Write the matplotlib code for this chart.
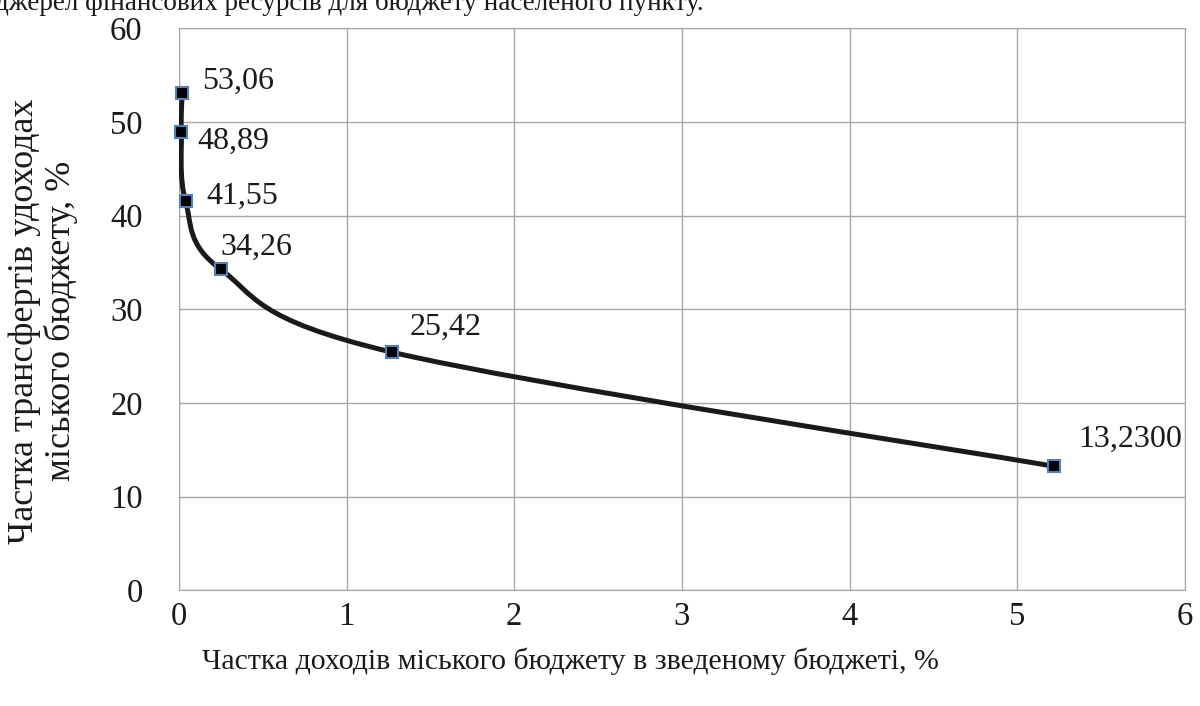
import numpy as np
import matplotlib.pyplot as plt
from matplotlib.path import Path
from matplotlib.patches import PathPatch

plt.rcParams['font.family'] = ['Liberation Serif', 'DejaVu Serif']

# дані
chastka_dokhodiv = [0.02, 0.015, 0.04, 0.25, 1.27, 5.22]
chastka_transfertiv = [53.06, 48.89, 41.55, 34.26, 25.42, 13.23]
pidpysy = ['53,06', '48,89', '41,55', '34,26', '25,42', '13,2300']
x_ticks = [0, 1, 2, 3, 4, 5, 6]
y_ticks = [0, 10, 20, 30, 40, 50, 60]

# зсуви підписів у пікселях
zsuvy = [(20, 12), (16, -9), (21, 5), (0, 22), (18, 25), (24, 27)]

fig = plt.figure(figsize=(12, 7.06), dpi=100)
ax = fig.add_axes([0.149, 0.164, 0.8385, 0.796])

# згладжена лінія як у Excel (Catmull-Rom -> Bezier)
pts = np.column_stack([chastka_dokhodiv, chastka_transfertiv])
n = len(pts)
verts = [pts[0]]
codes = [Path.MOVETO]
for i in range(n - 1):
    p0 = pts[i - 1] if i > 0 else pts[i]
    p1 = pts[i]
    p2 = pts[i + 1]
    p3 = pts[i + 2] if i + 2 < n else pts[i + 1]
    c1 = p1 + (p2 - p0) / 6
    c2 = p2 - (p3 - p1) / 6
    verts += [c1, c2, p2]
    codes += [Path.CURVE4] * 3
ax.add_patch(PathPatch(Path(verts, codes), facecolor='none', edgecolor='#1a1a1a',
                       lw=3.6, zorder=3, capstyle='round', joinstyle='round'))

ax.plot(chastka_dokhodiv, chastka_transfertiv, ls='none', marker='s', ms=8,
        mfc='black', mec='#4F81BD', mew=1.5, zorder=4, clip_on=False)

for x, y, t, (dx, dy) in zip(chastka_dokhodiv, chastka_transfertiv, pidpysy, zsuvy):
    ax.annotate(t, (x, y), xytext=(dx, dy), textcoords='offset pixels',
                ha='left', va='center', fontsize=23, color='#1a1a1a')

ax.set_xlim(0, 6)
ax.set_ylim(0, 60)
ax.set_xticks(x_ticks)
ax.set_yticks(y_ticks)
ax.grid(True, color='#A6A6A6', lw=1)
ax.set_axisbelow(True)
for s in ax.spines.values():
    s.set_color('#A6A6A6')
ax.tick_params(length=0, labelsize=23.5, colors='#1a1a1a')
ax.tick_params(axis='y', pad=26)
ax.tick_params(axis='x', pad=8)

fig.text(0.475, 0.063, 'Частка доходів міського бюджету в зведеному бюджеті, %',
         ha='center', va='center', fontsize=21.5, color='#1a1a1a')
fig.text(0.036, 0.545, 'Частка трансфертів удоходах\nміського бюджету, %',
         ha='center', va='center', rotation=90, fontsize=26, color='#1a1a1a',
         linespacing=1.1)
# обрізаний рядок тексту над діаграмою
fig.text(-0.004, 1 - 10 / 706, 'джерел фінансових ресурсів для бюджету населеного пункту.',
         ha='left', va='baseline', fontsize=19.5, color='#1a1a1a')

fig.savefig('out.png', dpi=100)
